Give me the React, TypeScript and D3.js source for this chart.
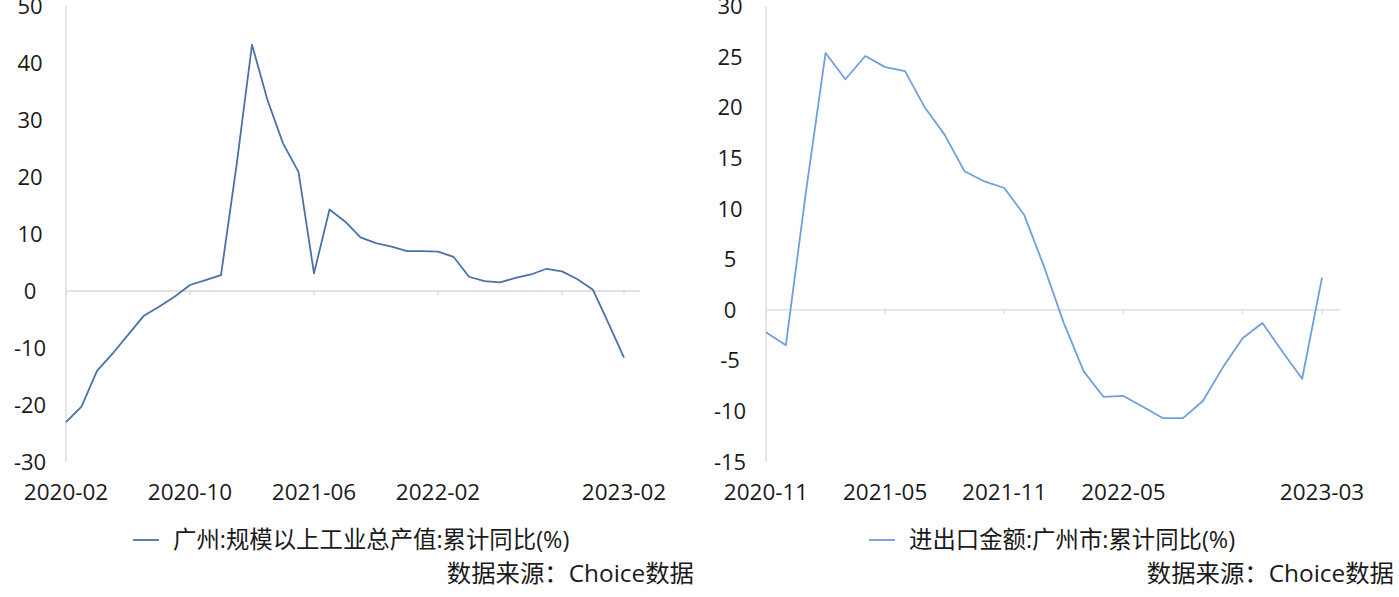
import React from "react";
import * as d3 from "d3";

// ---- Left chart data: 广州:规模以上工业总产值:累计同比(%)
const leftMonths = [
  "2020-02","2020-03","2020-04","2020-05","2020-06","2020-07","2020-08","2020-09","2020-10","2020-11","2020-12",
  "2021-01","2021-02","2021-03","2021-04","2021-05","2021-06","2021-07","2021-08","2021-09","2021-10","2021-11","2021-12",
  "2022-01","2022-02","2022-03","2022-04","2022-05","2022-06","2022-07","2022-08","2022-09","2022-10","2022-11","2022-12",
  "2023-01","2023-02",
];
const leftValues = [
  -23.0, -20.3, -14.0, -11.0, -7.7, -4.4, -2.75, -1.0, 1.05, 1.9, 2.8,
  22.0, 43.2, 33.5, 25.9, 20.9, 3.1, 14.3, 12.2, 9.4, 8.4, 7.8, 7.0,
  7.0, 6.9, 6.0, 2.5, 1.75, 1.5, 2.3, 2.9, 3.9, 3.45, 2.05, 0.2,
  -5.7, -11.7,
];
const leftTickMonths = ["2020-02","2020-10","2021-06","2022-02","2022-10","2023-02"];
const leftTickLabels = ["2020-02","2020-10","2021-06","2022-02","2023-02"];
const leftYTicks = [-30, -20, -10, 0, 10, 20, 30, 40, 50];
const leftLegend = "广州:规模以上工业总产值:累计同比(%)";

// ---- Right chart data: 进出口金额:广州市:累计同比(%)
const rightMonths = [
  "2020-11","2020-12","2021-01","2021-02","2021-03","2021-04","2021-05","2021-06","2021-07","2021-08","2021-09",
  "2021-10","2021-11","2021-12","2022-01","2022-02","2022-03","2022-04","2022-05","2022-06","2022-07","2022-08",
  "2022-09","2022-10","2022-11","2022-12","2023-01","2023-02","2023-03",
];
const rightValues = [
  -2.2, -3.5, 11.5, 25.4, 22.8, 25.1, 24.0, 23.6, 20.0, 17.3, 13.7,
  12.7, 12.05, 9.4, 4.3, -1.3, -6.07, -8.6, -8.5, -9.6, -10.7, -10.7,
  -9.0, -5.7, -2.8, -1.3, -4.1, -6.8, 3.2,
];
const rightTickMonths = ["2020-11","2021-05","2021-11","2022-05","2022-11","2023-03"];
const rightTickLabels = ["2020-11","2021-05","2021-11","2022-05","2023-03"];
const rightYTicks = [-15, -10, -5, 0, 5, 10, 15, 20, 25, 30];
const rightLegend = "进出口金额:广州市:累计同比(%)";

const sourceText = "数据来源：Choice数据";

const FONT = "'Open Sans', 'Noto Sans CJK SC', sans-serif";
const AXIS_COLOR = "#d9d9d9";
const TEXT_COLOR = "#1a1a1a";

type PanelProps = {
  months: string[];
  values: number[];
  tickMonths: string[];
  tickLabels: string[];
  yTicks: number[];
  xRange: [number, number];
  yRange: [number, number];
  axisEnd: number;
  yLabelX: number;
  color: string;
  legend: string;
  legendX: number;
  sourceRight: number;
};

function Panel(p: PanelProps) {
  const x = d3.scalePoint<string>().domain(p.months).range(p.xRange);
  const yExtent = d3.extent(p.yTicks) as [number, number];
  const y = d3.scaleLinear().domain(yExtent).range(p.yRange);
  const line = d3
    .line<number>()
    .x((_, i) => x(p.months[i]) as number)
    .y((d) => y(d));
  const x0 = p.xRange[0];
  const zeroY = y(0);
  return (
    <g>
      <line x1={x0} x2={x0} y1={y(yExtent[1])} y2={y(yExtent[0])} stroke={AXIS_COLOR} strokeWidth={1.3} />
      <line x1={x0} x2={p.axisEnd} y1={zeroY} y2={zeroY} stroke={AXIS_COLOR} strokeWidth={1.3} />
      {p.tickMonths.map((m) => (
        <line key={m} x1={x(m)} x2={x(m)} y1={zeroY} y2={zeroY + 4} stroke={AXIS_COLOR} strokeWidth={1.3} />
      ))}
      {p.yTicks.map((t) => (
        <text key={t} x={p.yLabelX} y={y(t)} dy="0.36em" textAnchor="middle" fontSize={22} fontFamily={FONT} fill={TEXT_COLOR}>
          {t}
        </text>
      ))}
      {p.tickLabels.map((m) => (
        <text key={m} x={x(m)} y={500} textAnchor="middle" fontSize={22.5} fontFamily={FONT} fill={TEXT_COLOR}>
          {m}
        </text>
      ))}
      <path d={line(p.values) || ""} fill="none" stroke={p.color} strokeWidth={1.8} strokeLinejoin="round" />
      <line x1={p.legendX} x2={p.legendX + 26} y1={540} y2={540} stroke={p.color} strokeWidth={1.8} />
      <text x={p.legendX + 40} y={540} dy="0.36em" fontSize={23.4} fontFamily={FONT} fill={TEXT_COLOR}>
        {p.legend}
      </text>
      <text x={p.sourceRight} y={573} dy="0.36em" textAnchor="end" fontSize={24.4} fontFamily={FONT} fill={TEXT_COLOR}>
        {sourceText}
      </text>
    </g>
  );
}

export default function App() {
  return (
    <svg
      width={1399}
      height={597}
      style={{ position: "absolute", left: 0, top: 0, background: "#ffffff", display: "block" }}
    >
      <rect x={0} y={0} width={1399} height={597} fill="#ffffff" />
      <Panel
        months={leftMonths}
        values={leftValues}
        tickMonths={leftTickMonths}
        tickLabels={leftTickLabels}
        yTicks={leftYTicks}
        xRange={[66, 624]}
        yRange={[462, 6]}
        axisEnd={640}
        yLabelX={30}
        color="#4a72a8"
        legend={leftLegend}
        legendX={133}
        sourceRight={694}
      />
      <Panel
        months={rightMonths}
        values={rightValues}
        tickMonths={rightTickMonths}
        tickLabels={rightTickLabels}
        yTicks={rightYTicks}
        xRange={[766, 1322]}
        yRange={[461.7, 6.4]}
        axisEnd={1340}
        yLabelX={730}
        color="#6f9fdc"
        legend={rightLegend}
        legendX={869}
        sourceRight={1394}
      />
    </svg>
  );
}
